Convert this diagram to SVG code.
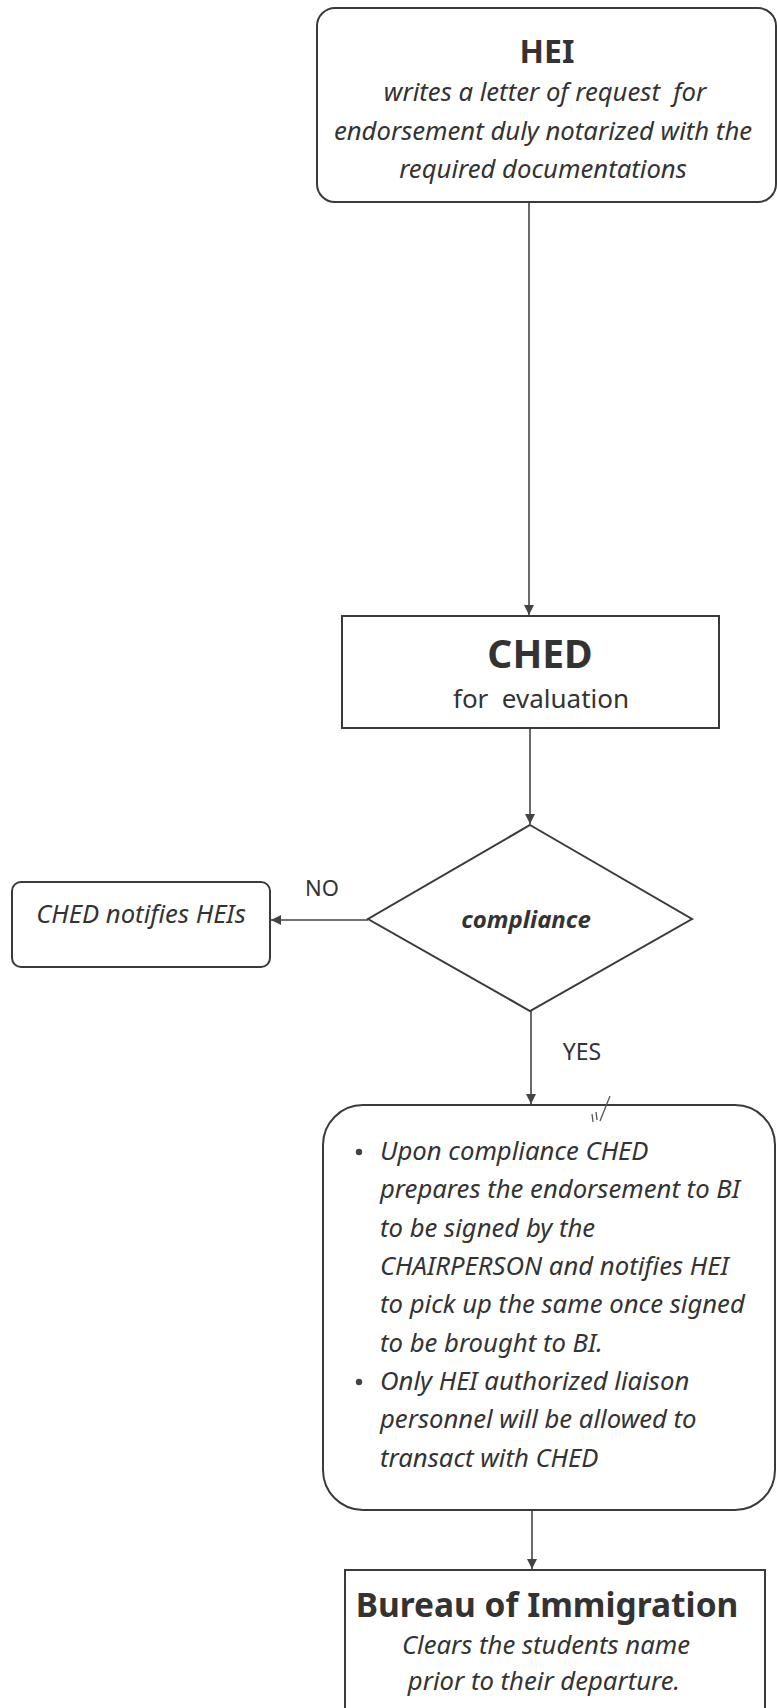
<svg xmlns="http://www.w3.org/2000/svg" width="777" height="1708" viewBox="0 0 777 1708">
  <defs>
    <marker id="arr" viewBox="0 0 10 10" refX="10" refY="5" markerWidth="10" markerHeight="10" markerUnits="userSpaceOnUse" orient="auto">
      <path d="M0,0 L10,5 L0,10 Z" fill="#444"/>
    </marker>
    <style>
      .box { fill: #fff; stroke: #3a3a3a; stroke-width: 2; }
      .con { fill: none; stroke: #444; stroke-width: 1.6; marker-end: url(#arr); }
      .t { font-family: "Noto Sans", "Open Sans", "Liberation Sans", sans-serif; fill: #333; }
      .it { font-style: italic; font-size: 25.7px; }
      .hd { font-weight: bold; }
      .mid { text-anchor: middle; }
    </style>
  </defs>
  <rect width="777" height="1708" fill="#fff"/>

  <g id="connectors">
    <line class="con" x1="529" y1="202" x2="529" y2="615"/>
    <line class="con" x1="530" y1="728" x2="530" y2="824"/>
    <line class="con" x1="368" y1="920" x2="271" y2="920"/>
    <line class="con" x1="531" y1="1011" x2="531" y2="1104"/>
    <line class="con" x1="532" y1="1510" x2="532" y2="1569"/>
    <text class="t mid" x="322" y="896" font-size="22">NO</text>
    <text class="t mid" x="582" y="1060" font-size="23">YES</text>
  </g>

  <g id="hei">
    <rect class="box" x="317" y="8" width="459" height="194" rx="18"/>
    <text class="t hd mid" x="547" y="63" font-size="32">HEI</text>
    <text class="t it mid" x="545" y="101" xml:space="preserve">writes a letter of request  for</text>
    <text class="t it mid" x="543" y="140">endorsement duly notarized with the</text>
    <text class="t it mid" x="543" y="178">required documentations</text>
  </g>

  <g id="ched">
    <rect class="box" x="342" y="616" width="377" height="112"/>
    <text class="t hd mid" x="540" y="668" font-size="39">CHED</text>
    <text class="t mid" x="541" y="708" font-size="26" xml:space="preserve">for  evaluation</text>
  </g>

  <g id="compliance">
    <polygon class="box" points="530,825 692,919 530,1011 368,919"/>
    <text class="t mid" x="526" y="928" font-size="24" font-style="italic" font-weight="bold">compliance</text>
  </g>

  <g id="notify">
    <rect class="box" x="12" y="882" width="258" height="85" rx="9"/>
    <text class="t it mid" x="141" y="923">CHED notifies HEIs</text>
  </g>

  <g id="endorse">
    <rect class="box" x="323" y="1105" width="452" height="405" rx="40"/>
    <path d="M610,1096 L600,1121 M592,1114 L593,1122 M596,1112 L597,1120" stroke="#555" stroke-width="1.3" fill="none"/>
    <circle cx="359" cy="1152" r="3.2" fill="#444"/>
    <circle cx="359" cy="1382" r="3.2" fill="#444"/>
    <text class="t it" x="380" y="1160">Upon compliance CHED</text>
    <text class="t it" x="380" y="1198">prepares the endorsement to BI</text>
    <text class="t it" x="380" y="1237">to be signed by the</text>
    <text class="t it" x="380" y="1275">CHAIRPERSON and notifies HEI</text>
    <text class="t it" x="380" y="1313">to pick up the same once signed</text>
    <text class="t it" x="380" y="1352">to be brought to BI.</text>
    <text class="t it" x="380" y="1390">Only HEI authorized liaison</text>
    <text class="t it" x="380" y="1428">personnel will be allowed to</text>
    <text class="t it" x="380" y="1467">transact with CHED</text>
  </g>

  <g id="bi">
    <rect class="box" x="345" y="1570" width="420" height="160"/>
    <text class="t hd mid" x="547" y="1617" font-size="33.5">Bureau of Immigration</text>
    <text class="t it mid" x="546" y="1654">Clears the students name</text>
    <text class="t it mid" x="544" y="1690">prior to their departure.</text>
  </g>
</svg>
